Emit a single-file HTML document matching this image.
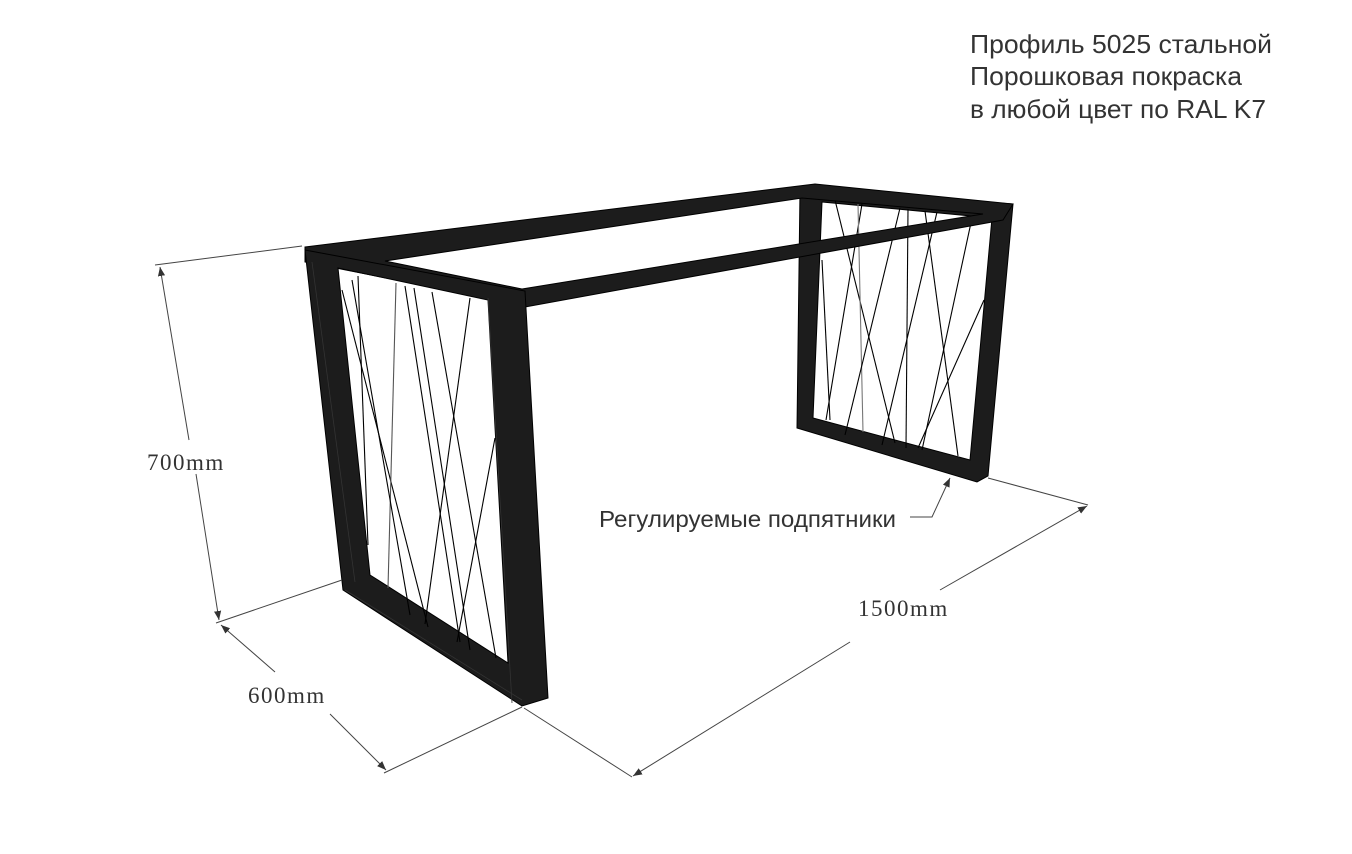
<!DOCTYPE html>
<html><head><meta charset="utf-8"><style>
html,body{margin:0;padding:0;background:#fff;}
svg{display:block;}
</style></head><body>
<svg width="1352" height="854" viewBox="0 0 1352 854" xmlns="http://www.w3.org/2000/svg">
<defs>
<marker id="ar" viewBox="0 0 10 10" refX="10" refY="5" markerWidth="9" markerHeight="9" orient="auto-start-reverse" markerUnits="userSpaceOnUse"><path d="M0,1 L10,5 L0,9 z" fill="#333"/></marker>
</defs>
<!-- far leg -->
<path fill-rule="evenodd" fill="#1c1c1c" stroke="#000" stroke-width="1" d="M800,190 L1013,204 L988,476 L977,482 L797,428 Z M822,202 L992,218 L970,460 L813,418 Z"/>
<g stroke="#000" stroke-width="1.1">
<line x1="835" y1="200" x2="895" y2="443"/>
<line x1="862" y1="204" x2="826" y2="420"/>
<line x1="858" y1="204" x2="863" y2="432" stroke="#777"/>
<line x1="900" y1="208" x2="845" y2="435"/>
<line x1="908" y1="209" x2="906" y2="448"/>
<line x1="925" y1="211" x2="958" y2="456"/>
<line x1="937" y1="212" x2="882" y2="445"/>
<line x1="972" y1="218" x2="922" y2="450"/>
<line x1="984" y1="300" x2="918" y2="448"/>
<line x1="822" y1="260" x2="830" y2="420"/>
</g>
<!-- top frame -->
<path fill-rule="evenodd" fill="#1c1c1c" stroke="#000" stroke-width="1" d="M305,247 L815,184 L1013,204 L1003,220 L525,307 L488,298 L305,262 Z M385,261 L802,198 L983,214 L522,289 Z"/>
<!-- near leg -->
<path fill-rule="evenodd" fill="#1c1c1c" stroke="#000" stroke-width="1" d="M305,250 L525,291 L548,698 L522,706 L343,590 Z M338,268 L488,300 L508,663 L370,575 Z"/>
<g stroke="#333" stroke-width="0.8" fill="none">
<line x1="312" y1="262" x2="355" y2="582"/>
<line x1="488" y1="298" x2="512" y2="703"/>
<line x1="345" y1="590" x2="522" y2="700"/>
</g>
<g stroke="#000" stroke-width="1.1">
<line x1="342" y1="290" x2="428" y2="627"/>
<line x1="358" y1="276" x2="368" y2="545"/>
<line x1="396" y1="283" x2="388" y2="588" stroke="#555"/>
<line x1="405" y1="286" x2="460" y2="642"/>
<line x1="414" y1="288" x2="470" y2="650"/>
<line x1="432" y1="292" x2="496" y2="658"/>
<line x1="470" y1="298" x2="425" y2="624"/>
<line x1="495" y1="438" x2="457" y2="642"/>
<line x1="352" y1="280" x2="410" y2="615"/>
</g>
<!-- dimension lines -->
<g stroke="#444" stroke-width="1" fill="none">
<line x1="155" y1="265" x2="302" y2="246"/>
<line x1="216" y1="623" x2="342" y2="580"/>
<line x1="160" y1="267" x2="189" y2="440" marker-start="url(#ar)"/>
<line x1="196" y1="474" x2="219" y2="620" marker-end="url(#ar)"/>
<line x1="221" y1="625" x2="275" y2="672" marker-start="url(#ar)"/>
<line x1="330" y1="714" x2="386" y2="770" marker-end="url(#ar)"/>
<line x1="384" y1="773" x2="522" y2="707"/>
<line x1="524" y1="708" x2="632" y2="777"/>
<line x1="633" y1="776" x2="850" y2="642" marker-start="url(#ar)"/>
<line x1="940" y1="590" x2="1087" y2="506" marker-end="url(#ar)"/>
<line x1="988" y1="478" x2="1088" y2="505"/>
<polyline points="910,517 932,517 950,478" marker-end="url(#ar)"/>
</g>
<g font-family="'Liberation Serif', serif" font-size="23" fill="#333" letter-spacing="1.5">
<text x="147" y="470">700mm</text>
<text x="248" y="703">600mm</text>
<text x="858" y="616">1500mm</text>
</g>
<g font-family="'Liberation Sans', 'DejaVu Sans', sans-serif" fill="#333">
<text x="599" y="527" font-size="23" textLength="297" lengthAdjust="spacingAndGlyphs">Регулируемые подпятники</text>
<text x="970" y="53" font-size="26" textLength="302" lengthAdjust="spacingAndGlyphs">Профиль 5025 стальной</text>
<text x="970" y="85" font-size="26" textLength="272" lengthAdjust="spacingAndGlyphs">Порошковая покраска</text>
<text x="970" y="118" font-size="26" textLength="296" lengthAdjust="spacingAndGlyphs">в любой цвет по RAL K7</text>
</g>
</svg>
</body></html>
